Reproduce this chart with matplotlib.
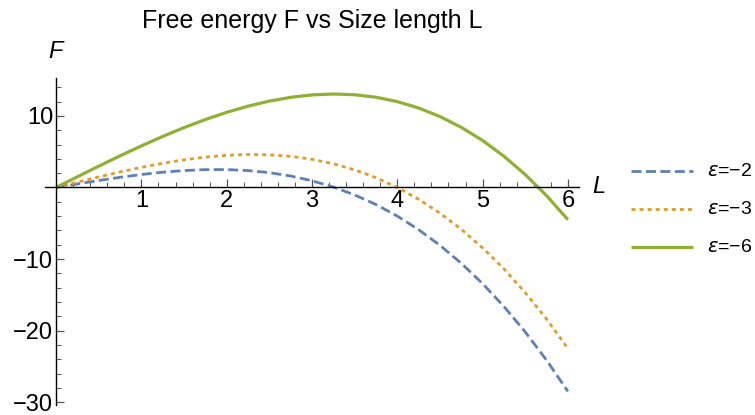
import matplotlib
matplotlib.use("Agg")
import matplotlib.pyplot as plt
from matplotlib.lines import Line2D
import numpy as np

L = [0, 0.25, 0.5, 0.75, 1, 1.25, 1.5, 1.75, 2, 2.25, 2.5, 2.75, 3,
     3.25, 3.5, 3.75, 4, 4.25, 4.5, 4.75, 5, 5.25, 5.5, 5.75, 6]
F_eps2 = [0, 0.497, 0.977, 1.421, 1.8125, 2.134, 2.367, 2.495, 2.5, 2.364,
          2.070, 1.601, 0.9375, 0.064, -1.039, -2.388, -4.0, -5.894, -8.086,
          -10.595, -13.4375, -16.632, -20.195, -24.146, -28.5]
F_eps3 = [0, 0.747, 1.477, 2.171, 2.8125, 3.384, 3.867, 4.245, 4.5, 4.614,
          4.570, 4.351, 3.9375, 3.314, 2.461, 1.362, 0.0, -1.644, -3.586,
          -5.845, -8.4375, -11.382, -14.695, -18.396, -22.5]
F_eps6 = [0, 1.497, 2.977, 4.421, 5.8125, 7.134, 8.367, 9.495, 10.5, 11.364,
          12.070, 12.601, 12.9375, 13.064, 12.961, 12.612, 12.0, 11.106, 9.914,
          8.405, 6.5625, 4.368, 1.805, -1.146, -4.5]
labels = [r"$\epsilon$=−2", r"$\epsilon$=−3", r"$\epsilon$=−6"]
xticks = [1, 2, 3, 4, 5, 6]
yticks = [-30, -20, -10, 10]

plt.rcParams['font.family'] = ['Liberation Sans', 'DejaVu Sans']

W, H = 755, 415
fig = plt.figure(figsize=(W / 100, H / 100), dpi=100)
ax = fig.add_axes([45 / W, 1 - 405 / H, (579 - 45) / W, (405 - 78) / H])
ax.set_xlim(-0.13, 6.13)
ax.set_ylim(-30.4, 15.3)

blue, orange, green = '#5E81B5', '#E19C24', '#8FB032'
styles = [
    dict(color=blue, lw=2.0, dashes=(3.6, 1.6)),
    dict(color=orange, lw=2.0, dashes=(1.45, 1.45)),
    dict(color=green, lw=2.3, linestyle='-'),
]
for ys, st in zip([F_eps2, F_eps3, F_eps6], styles):
    ax.plot(L, ys, clip_on=False, solid_capstyle='butt', dash_capstyle='butt', **st)

for s in ['top', 'right']:
    ax.spines[s].set_visible(False)
ax.spines['left'].set_position(('data', 0))
ax.spines['bottom'].set_position(('data', 0))
for s in ['left', 'bottom']:
    ax.spines[s].set_linewidth(1.0)
    ax.spines[s].set_color('black')

ax.set_xticks(xticks)
ax.set_xticks(np.arange(-0.0, 6.01, 0.2), minor=True)
ax.set_yticks(yticks)
ax.set_yticks([v for v in range(-30, 15, 2) if v != 0], minor=True)
ax.set_xticklabels([str(v) for v in xticks])
ax.set_yticklabels(["−30", "−20", "−10", "10"])
ax.tick_params(axis='x', which='major', direction='in', length=6, width=0.9,
               color='#555555', labelsize=17, pad=2)
ax.tick_params(axis='x', which='minor', direction='in', length=3.5, width=0.7,
               color='#555555')
ax.tick_params(axis='y', which='major', direction='in', length=6, width=0.9,
               color='#555555', labelsize=17, pad=2)
ax.tick_params(axis='y', which='minor', direction='in', length=3.5, width=0.7,
               color='#555555')

fig.text(55 / W, 1 - 51 / H, 'F', fontsize=17, style='italic', ha='center', va='center')
fig.text(599 / W, 1 - 186 / H, 'L', fontsize=17, style='italic', ha='center', va='center')
fig.text(312 / W, 1 - 21 / H, 'Free energy F vs Size length L', fontsize=18,
         ha='center', va='center')

leg_y = [171, 209, 247]
for yy, st, lab in zip(leg_y, styles, labels):
    fig.add_artist(Line2D([631 / W, 693 / W], [1 - yy / H, 1 - yy / H],
                          transform=fig.transFigure, solid_capstyle='butt',
                          dash_capstyle='butt', **st))
    fig.text(707 / W, 1 - yy / H, lab, fontsize=14, ha='left', va='center')

fig.savefig('out.png', dpi=100)
